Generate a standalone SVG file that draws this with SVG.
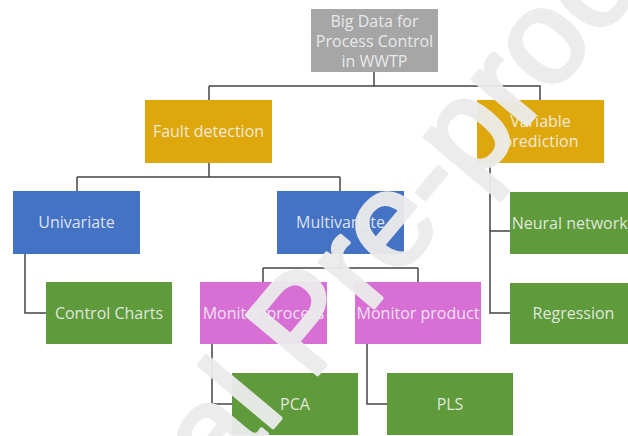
<svg xmlns="http://www.w3.org/2000/svg" width="628" height="436" viewBox="0 0 628 436">
<style>
.box{stroke:none}
.gray{fill:#a6a6a6}
.gold{fill:#dea80c}
.blue{fill:#4472c4}
.pink{fill:#d86fd5}
.green{fill:#5f9a3b}
.t{font-family:"Open Sans","Noto Sans",sans-serif;font-size:16px;fill:#f4f4f4;fill-opacity:0.88;text-anchor:middle}
.c{fill:none;stroke:#444;stroke-width:1.5}
.wm{font-family:"Liberation Sans",Arial,sans-serif;font-size:134px;fill:#ececec;stroke:#ececec;stroke-width:4;stroke-linejoin:round;opacity:0.95}
</style>
<rect width="628" height="436" fill="#fff"/>
<g id="connectors">
<path class="c" d="M374,72 V86 M209,86 H540 V100 M209,86 V100"/>
<path class="c" d="M209,163 V177 M77,177 H340 M77,177 V191 M340,177 V191"/>
<path class="c" d="M25,254 V313 H46"/>
<path class="c" d="M341,254 V268 M263,268 H418 M263,268 V282 M418,268 V282"/>
<path class="c" d="M212,344 V404 H232"/>
<path class="c" d="M367,344 V404 H387"/>
<path class="c" d="M490,163 V313 H510 M490,231 H510"/>
</g>
<g id="n-root"><rect class="box gray" x="311" y="9" width="127" height="63"/>
<text class="t" x="374.5" y="27">Big Data for</text><text class="t" x="374.5" y="47">Process Control</text><text class="t" x="374.5" y="67">in WWTP</text></g>
<g id="n-fault"><rect class="box gold" x="145" y="100" width="127" height="63"/><text class="t" x="208.5" y="137">Fault detection</text></g>
<g id="n-varpred"><rect class="box gold" x="477" y="100" width="127" height="63"/><text class="t" x="540.5" y="127">Variable</text><text class="t" x="540.5" y="147">prediction</text></g>
<g id="n-univ"><rect class="box blue" x="13" y="191" width="127" height="63"/><text class="t" x="76.5" y="228">Univariate</text></g>
<g id="n-multi"><rect class="box blue" x="277" y="191" width="127" height="63"/><text class="t" x="340.5" y="228">Multivariate</text></g>
<g id="n-neural"><rect class="box green" x="510" y="192" width="127" height="62"/><text class="t" x="573.5" y="229">Neural networks</text></g>
<g id="n-cc"><rect class="box green" x="46" y="282" width="126" height="62"/><text class="t" x="109" y="319">Control Charts</text></g>
<g id="n-mproc"><rect class="box pink" x="200" y="282" width="127" height="62"/><text class="t" x="263.5" y="319">Monitor process</text></g>
<g id="n-mprod"><rect class="box pink" x="355" y="282" width="126" height="62"/><text class="t" x="418" y="319">Monitor product</text></g>
<g id="n-regr"><rect class="box green" x="510" y="283" width="127" height="61"/><text class="t" x="573.5" y="319">Regression</text></g>
<g id="n-pca"><rect class="box green" x="232" y="373" width="126" height="62"/><text class="t" x="295" y="410">PCA</text></g>
<g id="n-pls"><rect class="box green" x="387" y="373" width="126" height="62"/><text class="t" x="450" y="410">PLS</text></g>
<g id="watermark"><text class="wm" transform="translate(4,748) rotate(-50)">Journal Pre-proof</text></g>
</svg>
